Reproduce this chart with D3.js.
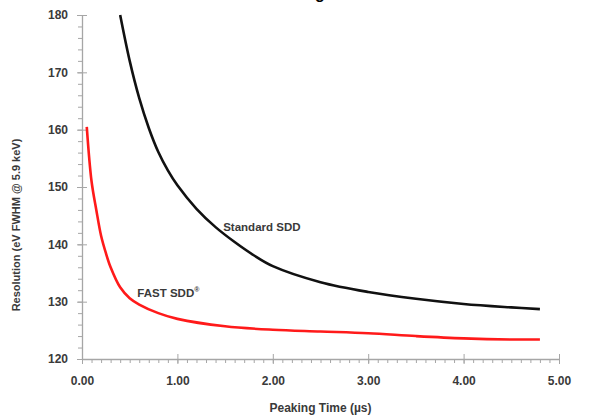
<!DOCTYPE html>
<html>
<head>
<meta charset="utf-8">
<script src="https://cdn.jsdelivr.net/npm/d3@7"></script>
<style>
  body { margin: 0; background: #fff; }
  svg { display: block; font-family: "Liberation Sans", Arial, sans-serif; }
</style>
</head>
<body>
<div id="chart"></div>
<script>
// peaking time (µs) -> resolution (eV FWHM @ 5.9 keV)
const standardTime = [0.40, 0.50, 0.60, 0.70, 0.80, 0.90, 1.00, 1.20, 1.40, 1.60, 1.80, 2.00, 2.50, 3.00, 3.50, 4.00, 4.50, 4.80]
const standardRes  = [180, 172, 165.5, 160.3, 156.1, 152.9, 150.3, 146.2, 143.0, 140.4, 138.1, 136.2, 133.4, 131.7, 130.5, 129.6, 129.0, 128.7]

const fastTime = [0.05, 0.10, 0.15, 0.20, 0.25, 0.30, 0.40, 0.50, 0.60, 0.80, 1.00, 1.50, 2.00, 2.50, 3.00, 3.50, 4.00, 4.50, 4.80]
const fastRes  = [160.5, 151, 146, 141.5, 138.5, 136, 132.5, 130.6, 129.5, 128, 127, 125.7, 125.1, 124.8, 124.5, 124.0, 123.6, 123.4, 123.4]

const xTicks = [0, 1, 2, 3, 4, 5]
const yTicks = [120, 130, 140, 150, 160, 170, 180]

const width = 609
const height = 419
const marginLeft = 82
const marginRight = 50      // 5.00 sits at x = 559
const marginTop = 15
const marginBottom = 60     // 120 sits at y = 359

const x = d3.scaleLinear([0, 5], [marginLeft, width - marginRight])
const y = d3.scaleLinear([120, 180], [height - marginBottom, marginTop])

const svg = d3.select("#chart").append("svg")
    .attr("width", width)
    .attr("height", height)
    .attr("viewBox", [0, 0, width, height])

// chart title sits above the crop, only the tail of the "g" shows
const title = svg.append("text")
    .attr("y", -1)
    .attr("font-size", 16)
    .attr("font-weight", "bold")
    .attr("fill", "#000")
    .text("Resolution vs. Peaking Time")
const node = title.node()
const gAt = node.textContent.indexOf("g")
const gLeft = node.getSubStringLength(0, gAt)
const gWidth = node.getSubStringLength(gAt, 1)
title.attr("x", 320 - gLeft - gWidth / 2)

const axisColor = "#a6a6a6"
const labelColor = "#3a3a3a"

// minor ticks first, then the major ones crossing the axis line
svg.append("g")
    .attr("transform", `translate(0,${y(120)})`)
    .call(d3.axisBottom(x).tickValues(d3.range(0, 5.001, 0.1)).tickSize(4).tickFormat(""))
    .call(g => g.select(".domain").remove())
    .call(g => g.selectAll(".tick line").attr("stroke", axisColor))

svg.append("g")
    .attr("transform", `translate(${marginLeft},0)`)
    .call(d3.axisLeft(y).tickValues(d3.range(120, 180.001, 2)).tickSize(4).tickFormat(""))
    .call(g => g.select(".domain").remove())
    .call(g => g.selectAll(".tick line").attr("stroke", axisColor))

const xAxis = svg.append("g")
    .attr("transform", `translate(0,${y(120)})`)
    .call(d3.axisBottom(x).tickValues(xTicks).tickSize(5).tickPadding(12).tickFormat(d3.format(".2f")).tickSizeOuter(0))
xAxis.select(".domain").attr("stroke", axisColor).attr("stroke-width", 1.3)
xAxis.selectAll(".tick line").attr("stroke", axisColor).attr("y1", -5)
xAxis.selectAll(".tick text")
    .attr("font-size", 12).attr("font-weight", "bold").attr("fill", labelColor)

const yAxis = svg.append("g")
    .attr("transform", `translate(${marginLeft},0)`)
    .call(d3.axisLeft(y).tickValues(yTicks).tickSize(5).tickPadding(9).tickSizeOuter(0))
yAxis.select(".domain").attr("stroke", axisColor).attr("stroke-width", 1.3)
yAxis.selectAll(".tick line").attr("stroke", axisColor).attr("x1", 5)
yAxis.selectAll(".tick text")
    .attr("font-size", 12).attr("font-weight", "bold").attr("fill", labelColor)

// axis titles
svg.append("text")
    .attr("x", x(2.5))
    .attr("y", 412)
    .attr("text-anchor", "middle")
    .attr("font-size", 12)
    .attr("font-weight", "bold")
    .attr("fill", labelColor)
    .text("Peaking Time (µs)")

svg.append("text")
    .attr("transform", "translate(20,225) rotate(-90)")
    .attr("text-anchor", "middle")
    .attr("font-size", 11)
    .attr("font-weight", "bold")
    .attr("fill", labelColor)
    .text("Resolution (eV FWHM @ 5.9 keV)")

const line = d3.line()
    .x(d => x(d[0]))
    .y(d => y(d[1]))
    .curve(d3.curveCatmullRom.alpha(0.5))

svg.append("path")
    .datum(d3.zip(standardTime, standardRes))
    .attr("fill", "none")
    .attr("stroke", "#111")
    .attr("stroke-width", 2.6)
    .attr("d", line)

svg.append("path")
    .datum(d3.zip(fastTime, fastRes))
    .attr("fill", "none")
    .attr("stroke", "#ff1a1a")
    .attr("stroke-width", 2.6)
    .attr("d", line)

// series labels
svg.append("text")
    .attr("x", x(1.48))
    .attr("y", y(142.4))
    .attr("font-size", 11.5)
    .attr("font-weight", "bold")
    .attr("fill", labelColor)
    .text("Standard SDD")

svg.append("text")
    .attr("x", x(0.58))
    .attr("y", y(130.8))
    .attr("font-size", 11.5)
    .attr("font-weight", "bold")
    .attr("fill", labelColor)
    .text("FAST SDD")
    .append("tspan")
    .attr("font-size", 7)
    .attr("dy", -5)
    .text("®")
</script>
</body>
</html>
